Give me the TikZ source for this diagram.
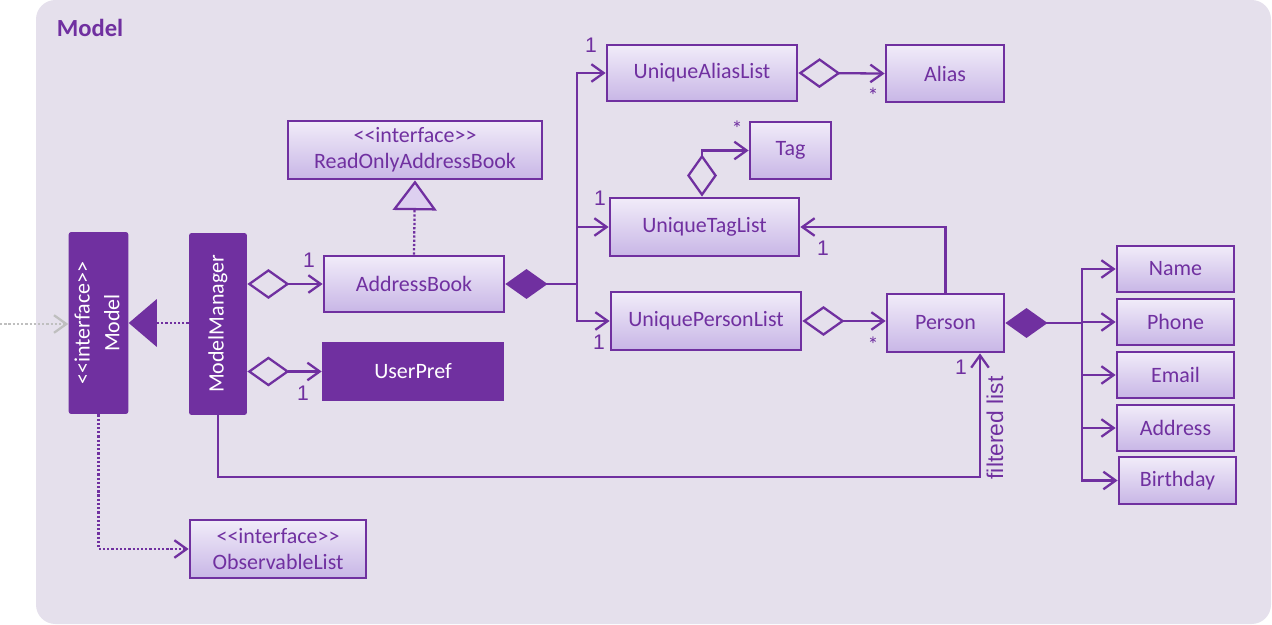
\documentclass[tikz,border=0pt]{standalone}
\usepackage{xcolor}
\usepackage{graphicx}
\usepackage{fontspec}
\setmainfont{Carlito}
\newfontfamily\arialfont{Liberation Sans}
\usetikzlibrary{arrows.meta}

\definecolor{umlpurple}{HTML}{7030A0}
\definecolor{umlbg}{HTML}{E5E0EC}
\definecolor{boxtop}{HTML}{F1ECF9}
\definecolor{boxbot}{HTML}{C8B6E6}
\definecolor{boxmid}{HTML}{DDD0F0}
\definecolor{extgray}{HTML}{BFBFBF}

\newcommand{\stereo}[1]{<\kern0pt<#1>\kern0pt>}

\begin{document}
\begin{tikzpicture}[x=0.02cm, y=-0.02cm,
    every node/.style={font=\fontsize{12.5}{14.7}\selectfont, text=umlpurple},
    class/.style={draw=umlpurple, line width=1.6pt, top color=boxtop, bottom color=boxbot,
      inner sep=0pt, align=center},
    darkclass/.style={fill=umlpurple, text=white, rounded corners=1.5pt, inner sep=0pt,
      align=center},
    mult/.style={font=\arialfont\fontsize{12}{14}\selectfont},
    link/.style={draw=umlpurple, line width=1.3pt},
    assoc/.style={link, arrows={-Straight Barb[length=7pt,width=10pt]}},
    aggr/.style={link, arrows={Diamond[open,length=24pt,width=17pt]-Straight Barb[length=7pt,width=10pt]}},
    compo/.style={link, arrows={Diamond[length=24pt,width=17pt]-}},
    realize/.style={link, dash pattern=on 1.3pt off 1.1pt},
    dep/.style={realize, arrows={-Straight Barb[length=7pt,width=10pt]}}]

  \useasboundingbox (0,0) rectangle (1272,625);
  \fill[umlbg, rounded corners=11pt] (36,0) rectangle (1271,624);
  \node[font=\bfseries\fontsize{14}{16}\selectfont] (title) at (90,28) {Model};

  % Model
  \node[darkclass, minimum width=1.18cm, minimum height=3.64cm, font=\fontsize{12.5}{17}\selectfont]
    (model) at (98.5,323) {\rotatebox{90}{\begin{tabular}{@{}c@{}}\stereo{interface}\\Model\end{tabular}}};
  \node[darkclass, minimum width=1.16cm, minimum height=3.64cm] (mm) at (218,324) {\rotatebox{90}{ModelManager}};

  % AddressBook
  \node[class, minimum width=5.08cm, minimum height=1.16cm] (roab) at (415,150) {\stereo{interface}\\ReadOnlyAddressBook};
  \node[class, minimum width=3.6cm, minimum height=1.12cm] (ab) at (414,284) {AddressBook};
  \node[darkclass, rounded corners=0pt, minimum width=3.64cm, minimum height=1.18cm] (up) at (413,371.5) {UserPref};
  \node[class, minimum width=3.52cm, minimum height=1.16cm] (obs) at (278,549) {\stereo{interface}\\ObservableList};

  % Lists
  \node[class, minimum width=3.8cm, minimum height=1.12cm] (ual) at (702,73) {UniqueAliasList};
  \node[class, minimum width=2.36cm, minimum height=1.14cm] (alias) at (945,73.5) {Alias};
  \node[class, minimum width=1.62cm, minimum height=1.14cm] (tag) at (790.5,150.5) {Tag};
  \node[class, minimum width=3.78cm, minimum height=1.16cm] (utl) at (704.5,227) {UniqueTagList};
  \node[class, minimum width=3.8cm, minimum height=1.16cm] (upl) at (706,321) {UniquePersonList};

  % Person
  \node[class, minimum width=2.34cm, minimum height=1.16cm] (person) at (945.5,323) {Person};
  \node[class, minimum width=2.34cm, minimum height=0.92cm] (name) at (1175.5,269) {Name};
  \node[class, minimum width=2.34cm, minimum height=0.92cm] (phone) at (1175.5,322) {Phone};
  \node[class, minimum width=2.34cm, minimum height=0.92cm] (email) at (1175.5,375) {Email};
  \node[class, minimum width=2.34cm, minimum height=0.92cm] (address) at (1175.5,428) {Address};
  \node[class, minimum width=2.34cm, minimum height=0.94cm] (birthday) at (1177.5,480.5) {Birthday};

  % Connectors
  \coordinate (ext) at (0,324);
  \draw[line width=1.3pt, extgray, dash pattern=on 1.3pt off 1.1pt,
    arrows={-Straight Barb[length=7pt,width=10pt]}] (ext) -- (ext -| model.west);
  \draw[realize, arrows={-Triangle[length=16pt,width=27pt]}] (mm.west |- model) -- (model.east);
  \draw[dep] (model.south) |- (obs.west);
  \draw[aggr] (ab.west -| mm.east) -- (ab.west);
  \draw[aggr] (up.west -| mm.east) -- (up.west);
  \draw[realize, arrows={-Triangle[fill=boxmid,length=17pt,width=25pt]}] (ab.north) -- (roab.south);

  \coordinate (abj) at (577,284);
  \draw[compo] (ab.east) -- (abj);
  \draw[assoc] (abj) |- (ual.west);
  \draw[assoc] (abj) |- (utl.west);
  \draw[assoc] (abj) |- (upl.west);
  \draw[aggr] (ual.east) -- (alias.west);
  \draw[aggr] (utl.north -| 702,0) |- (tag.west);
  \draw[assoc] (person.north) |- (utl.east);
  \draw[aggr] (upl.east) -- (upl.east -| person.west);

  \coordinate (pj) at (1082,323);
  \draw[compo] (person.east) -- (pj);
  \foreach \n in {name,phone,email,address,birthday}
    \draw[assoc] (pj) |- (\n.west);

  \coordinate (flt) at (980,477);
  \draw[assoc] (mm.south) |- (flt) -- (flt |- person.south);
  \node[rotate=90, font=\arialfont\fontsize{13}{15}\selectfont] (fltext) at (995,428) {filtered list};

  % Multiplicities
  \node[mult] (m1) at (309,260) {1};
  \node[mult] (m2) at (303,393) {1};
  \node[mult] (m3) at (591,45) {1};
  \node[mult] (m4) at (600,198) {1};
  \node[mult] (m5) at (599,342) {1};
  \node[mult] (m6) at (823,248) {1};
  \node[mult] (m7) at (961,367) {1};
  \node (s1) at (873,96) {*};
  \node (s2) at (737,129) {*};
  \node (s3) at (873,345) {*};
\end{tikzpicture}
\end{document}
